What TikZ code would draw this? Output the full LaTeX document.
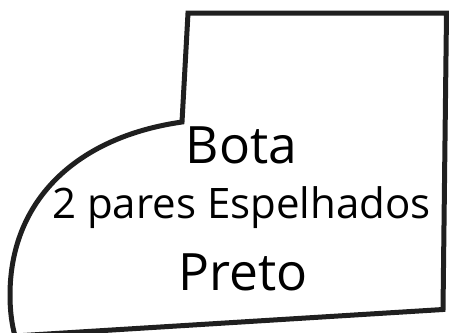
\documentclass[tikz,border=0pt]{standalone}
\usepackage{fontspec}
\setmainfont{Open Sans}
\begin{document}
\begin{tikzpicture}[x=1pt,y=-1pt,
  outline/.style={draw=black!88,line width=5pt,line join=miter},
  big/.style={font=\fontsize{51.5}{60}\selectfont,inner sep=0pt,anchor=base},
  mid/.style={font=\fontsize{42}{48}\selectfont,inner sep=0pt,anchor=base}]
\useasboundingbox (0,0) rectangle (449,332);
\begin{scope}
\clip (0,0) rectangle (449,332);
\draw[outline] (188,13) -- (446.5,13) -- (443,309.5) -- (15,336)
  .. controls (12,325) and (10,312) .. (10,295)
  .. controls (10,200) and (77,137) .. (182,122) -- cycle;
\end{scope}
\node[big] (bota) at (241.5,163) {Bota};
\node[mid] (desc) at (241.5,218) {2 pares Espelhados};
\node[big] (cor) at (243.5,290) {Preto};
\end{tikzpicture}
\end{document}
